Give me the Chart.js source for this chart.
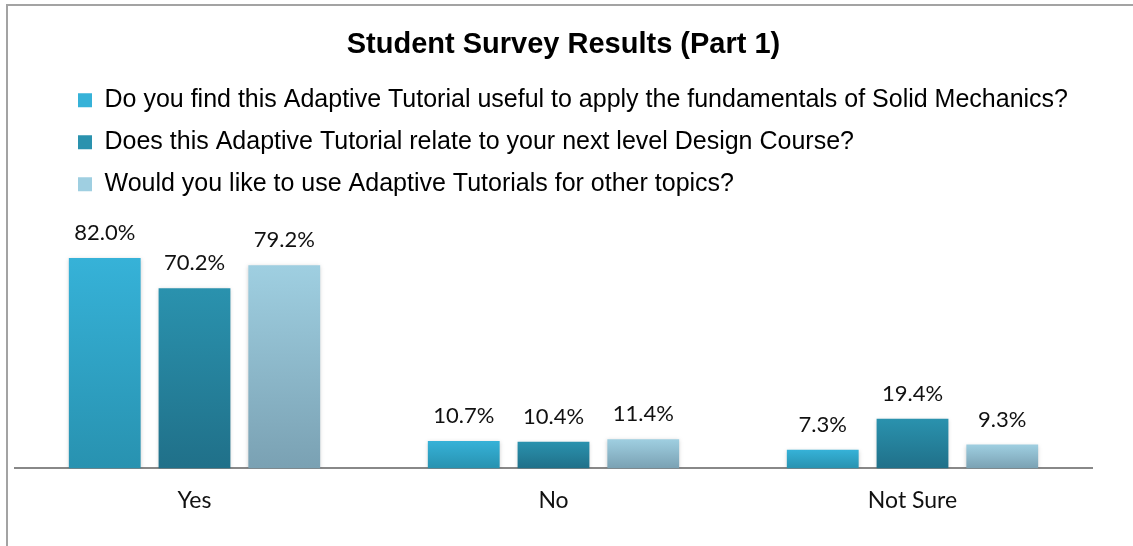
<!DOCTYPE html>
<html>
<head>
<meta charset="utf-8">
<script src="https://cdn.jsdelivr.net/npm/chart.js@4"></script>
<style>
  body { margin: 0; background: #fff; }
  #wrap { position: relative; width: 1133px; height: 546px; overflow: hidden; }
  #frame {
    position: absolute; left: 6px; top: 4px; width: 2000px; height: 1000px;
    border-left: 2px solid #a3a3a3; border-top: 2px solid #a3a3a3;
  }
</style>
</head>
<body>
<div id="wrap">
  <div id="frame"></div>
  <canvas id="surveyChart"></canvas>
</div>
<script>
// Survey answers (percent of students)
const categories = ["Yes", "No", "Not Sure"];
const questions = [
  "Do you find this Adaptive Tutorial useful to apply the fundamentals of Solid Mechanics?",
  "Does this Adaptive Tutorial relate to your next level Design Course?",
  "Would you like to use Adaptive Tutorials for other topics?",
];
const usefulValues = [82.0, 10.7, 7.3];
const designCourseValues = [70.2, 10.4, 19.4];
const otherTopicsValues = [79.2, 11.4, 9.3];

// top / bottom shades of each bar gradient
const barShades = [
  ["#36b2d8", "#2892b0"],
  ["#2a92ae", "#207089"],
  ["#9fcfe1", "#7aa1b3"],
];

function barGradient(shades) {
  return function (context) {
    const chart = context.chart;
    if (context.type !== "data" || !chart.chartArea || !context.parsed) {
      return shades[0];
    }
    const yScale = chart.scales.y;
    const top = yScale.getPixelForValue(context.parsed.y);
    const bottom = yScale.getPixelForValue(0);
    if (!isFinite(top) || !isFinite(bottom) || top === bottom) {
      return shades[0];
    }
    const g = chart.ctx.createLinearGradient(0, top, 0, bottom);
    g.addColorStop(0, shades[0]);
    g.addColorStop(1, shades[1]);
    return g;
  };
}

// Move title and legend to where the original has them
const boxOffsets = {
  id: "boxOffsets",
  afterLayout(chart) {
    chart.titleBlock.left += 10;
    chart.titleBlock.right += 10;
    chart.legend.left += 46;
    chart.legend.right += 46;
  },
};

// Soft shadow under bars + value labels on top
const barLabels = {
  id: "barLabels",
  beforeDatasetsDraw(chart) {
    const ctx = chart.ctx;
    ctx.save();
    ctx.shadowColor = "rgba(0, 0, 0, 0.18)";
    ctx.shadowBlur = 4;
    ctx.shadowOffsetY = 1;
  },
  afterDatasetsDraw(chart) {
    const ctx = chart.ctx;
    ctx.restore();
    ctx.save();
    ctx.font = "22px Lato";
    ctx.fillStyle = "#111";
    ctx.textAlign = "center";
    ctx.textBaseline = "middle";
    chart.data.datasets.forEach((ds, i) => {
      chart.getDatasetMeta(i).data.forEach((bar, j) => {
        ctx.fillText(ds.data[j].toFixed(1) + "%", bar.x, bar.y - 25);
      });
    });
    ctx.restore();
  },
};

const datasets = [usefulValues, designCourseValues, otherTopicsValues].map(
  (values, i) => ({
    label: questions[i],
    data: values,
    backgroundColor: barGradient(barShades[i]),
    borderWidth: 0,
    categoryPercentage: 0.75,
    barPercentage: 0.8,
  }),
);

new Chart(document.getElementById("surveyChart"), {
  type: "bar",
  data: { labels: categories, datasets: datasets },
  plugins: [boxOffsets, barLabels],
  options: {
    responsive: true,
    maintainAspectRatio: false,
    animation: false,
    layout: { padding: { left: 15, right: 41, top: 0, bottom: 22 } },
    plugins: {
      title: {
        display: true,
        text: "Student Survey Results (Part 1)",
        color: "#000",
        font: { family: "'Liberation Sans', Arial, sans-serif", size: 29, weight: "bold" },
        padding: { top: 28, bottom: 8 },
      },
      legend: {
        display: true,
        position: "top",
        align: "start",
        labels: {
          color: "#000",
          font: { family: "'Liberation Sans', Arial, sans-serif", size: 25 },
          boxWidth: 14,
          boxHeight: 14,
          padding: 17,
        },
      },
      tooltip: { enabled: false },
    },
    scales: {
      x: {
        grid: { display: false },
        border: { display: true, color: "#888", width: 2 },
        ticks: {
          color: "#111",
          font: { family: "Lato", size: 23 },
          padding: 10,
        },
      },
      y: {
        display: false,
        min: 0,
        max: 102,
      },
    },
  },
});
</script>
</body>
</html>
